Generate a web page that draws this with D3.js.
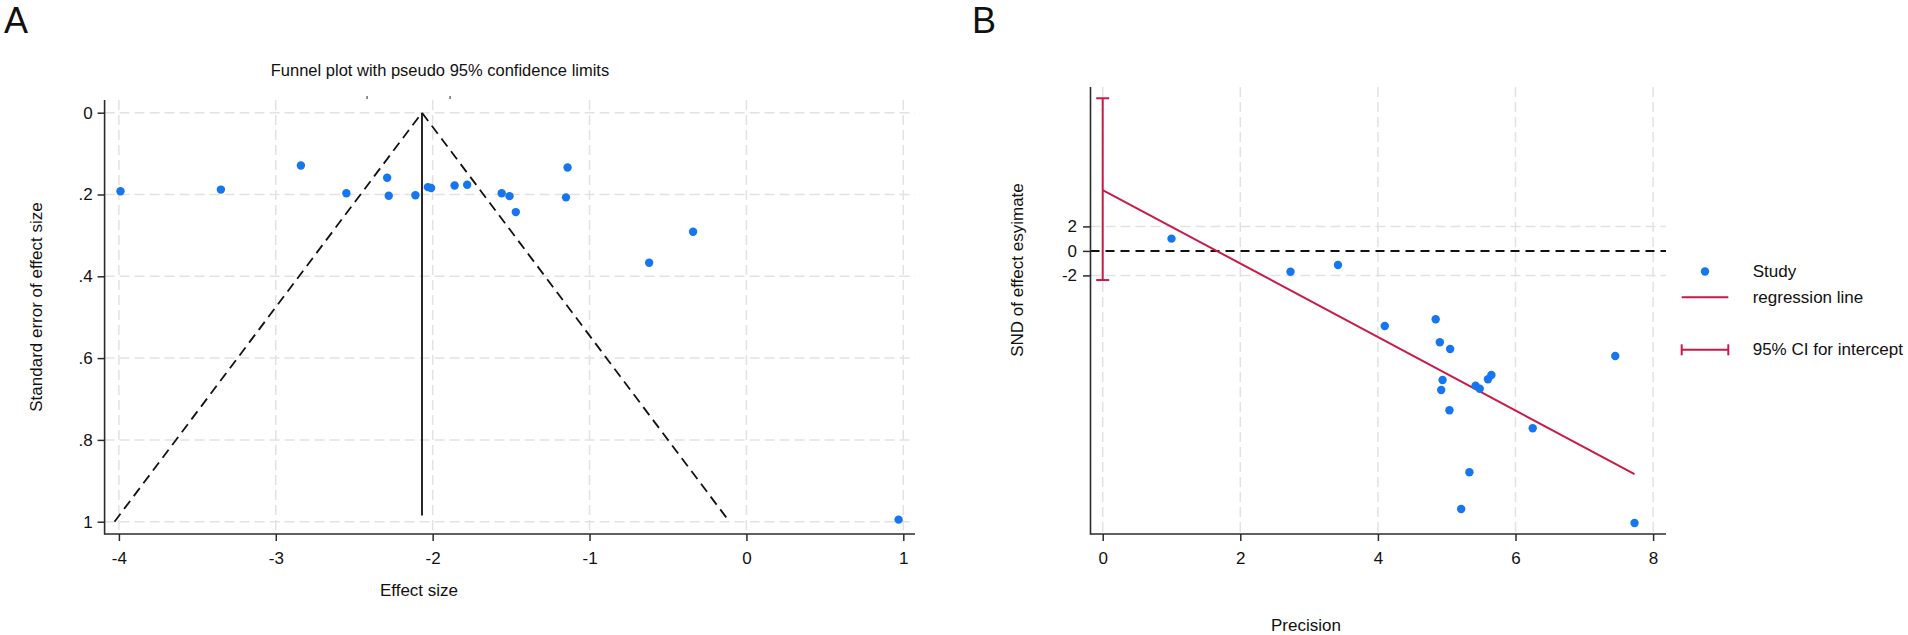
<!DOCTYPE html>
<html>
<head>
<meta charset="utf-8">
<script src="https://cdn.jsdelivr.net/npm/d3@7"></script>
<style>
  html, body { margin: 0; padding: 0; background: #fff; }
  svg { display: block; }
  text { font-family: "Liberation Sans", Arial, Helvetica, sans-serif; fill: #111; }
</style>
</head>
<body>
<svg id="chart" width="1908" height="635"></svg>
<script>
// ---------------- DATA ----------------
// Panel A: funnel plot
const effectSize = [-3.99, -3.35, -2.84, -2.55, -2.29, -2.28, -2.11, -2.03, -2.01, -1.86, -1.78, -1.56, -1.51, -1.47, -1.15, -1.14, -0.62, -0.34, 0.97];
const stdError   = [0.192, 0.188, 0.129, 0.197, 0.159, 0.203, 0.202, 0.182, 0.184, 0.178, 0.176, 0.197, 0.204, 0.243, 0.207, 0.134, 0.367, 0.291, 0.995];
const pooledEffect = -2.068;
const zCrit = 1.96;
const funnelSeMax = 1.0;
const pooledLineSeMax = 0.985;
const xTicksA = [-4, -3, -2, -1, 0, 1];
const xTickLabelsA = ["-4", "-3", "-2", "-1", "0", "1"];
const yTicksA = [0, 0.2, 0.4, 0.6, 0.8, 1];
const yTickLabelsA = ["0", ".2", ".4", ".6", ".8", "1"];
const topMarksA = [-2.418, -1.889];

// Panel B: Egger regression
const precision = [1.00, 2.73, 3.42, 4.10, 4.84, 4.90, 5.05, 4.94, 4.92, 5.04, 5.42, 5.48, 5.60, 5.65, 6.25, 5.33, 5.21, 7.45, 7.73];
const sndEffect = [1.00, -1.70, -1.15, -6.13, -5.58, -7.46, -8.01, -10.54, -11.36, -13.01, -11.00, -11.25, -10.48, -10.13, -14.48, -18.07, -21.07, -8.58, -22.21];
const regIntercept = 4.97;
const regSlope = -3.0;
const regXMax = 7.73;
const ciIntercept = [-2.38, 12.46];
const xTicksB = [0, 2, 4, 6, 8];
const xTickLabelsB = ["0", "2", "4", "6", "8"];
const yTicksB = [2, 0, -2];
const yTickLabelsB = ["2", "0", "-2"];
const yDomainB = [-23.1, 13.38];
const legendLabelsB = ["Study", "regression line", "95% CI for intercept"];

// ---------------- STYLE ----------------
const BLUE = "#1676f0";
const RED = "#c91a47";
const GRID = "#e2e2e2";
const AXIS = "#2b2b2b";

const svg = d3.select("#chart");
svg.append("rect").attr("width", 1908).attr("height", 635).attr("fill", "#fff");

// ================= PANEL A =================
const A = { left: 104.6, right: 915, top: 100, bottom: 534 };
const xA = d3.scaleLinear().domain([-4, 1]).range([118.9, 903.3]);
const yA = d3.scaleLinear().domain([0, 1]).range([112.7, 521.7]);
const gA = svg.append("g");

// grid
gA.selectAll(".gvx").data(xTicksA).join("line")
  .attr("x1", d => xA(d)).attr("x2", d => xA(d))
  .attr("y1", A.top).attr("y2", A.bottom)
  .attr("stroke", GRID).attr("stroke-width", 1.5).attr("stroke-dasharray", "10,5");
gA.selectAll(".gvy").data(yTicksA).join("line")
  .attr("x1", A.left).attr("x2", A.right)
  .attr("y1", d => yA(d)).attr("y2", d => yA(d))
  .attr("stroke", GRID).attr("stroke-width", 1.5).attr("stroke-dasharray", "10,5");

// funnel limits
const funnel = [
  [pooledEffect - zCrit * funnelSeMax, funnelSeMax],
  [pooledEffect, 0],
  [pooledEffect + zCrit * funnelSeMax, funnelSeMax]
];
gA.append("path")
  .attr("d", d3.line().x(d => xA(d[0])).y(d => yA(d[1]))(funnel))
  .attr("fill", "none").attr("stroke", "#111").attr("stroke-width", 1.8)
  .attr("stroke-dasharray", "10,6");
gA.append("line")
  .attr("x1", xA(pooledEffect)).attr("x2", xA(pooledEffect))
  .attr("y1", yA(0)).attr("y2", yA(pooledLineSeMax))
  .attr("stroke", "#111").attr("stroke-width", 1.8);

// tiny marks at top
gA.selectAll(".tm").data(topMarksA).join("line")
  .attr("x1", d => xA(d)).attr("x2", d => xA(d))
  .attr("y1", 96).attr("y2", 99)
  .attr("stroke", "#555").attr("stroke-width", 1.3);

// points
gA.selectAll(".ptA").data(effectSize.map((e, i) => [e, stdError[i]])).join("circle")
  .attr("cx", d => xA(d[0])).attr("cy", d => yA(d[1])).attr("r", 4.2)
  .attr("fill", BLUE);

// axes
const axA_x = gA.append("g").attr("transform", `translate(0,${A.bottom})`)
  .call(d3.axisBottom(xA).tickValues(xTicksA).tickSize(7).tickPadding(11).tickFormat((d, i) => xTickLabelsA[i]));
const axA_y = gA.append("g").attr("transform", `translate(${A.left},0)`)
  .call(d3.axisLeft(yA).tickValues(yTicksA).tickSize(7).tickPadding(5).tickFormat((d, i) => yTickLabelsA[i]));
[axA_x, axA_y].forEach(ax => {
  ax.select(".domain").remove();
  ax.selectAll(".tick line").attr("stroke", AXIS).attr("stroke-width", 1.5);
  ax.selectAll(".tick text").attr("font-size", 17).attr("fill", "#111")
    .style("font-family", '"Liberation Sans", Arial, sans-serif');
});
gA.append("line").attr("x1", A.left).attr("x2", A.left).attr("y1", A.top).attr("y2", A.bottom + 0.75)
  .attr("stroke", AXIS).attr("stroke-width", 1.6);
gA.append("line").attr("x1", A.left).attr("x2", A.right).attr("y1", A.bottom).attr("y2", A.bottom)
  .attr("stroke", AXIS).attr("stroke-width", 1.6);

// labels
gA.append("text").attr("x", 440).attr("y", 70).attr("text-anchor", "middle")
  .attr("dominant-baseline", "central").attr("font-size", 16.5)
  .text("Funnel plot with pseudo 95% confidence limits");
gA.append("text").attr("x", 419).attr("y", 590).attr("text-anchor", "middle")
  .attr("dominant-baseline", "central").attr("font-size", 17).text("Effect size");
gA.append("text").attr("transform", "translate(36,307) rotate(-90)").attr("text-anchor", "middle")
  .attr("dominant-baseline", "central").attr("font-size", 17).text("Standard error of effect size");
svg.append("text").attr("x", 4).attr("y", 33).attr("font-size", 36).text("A");

// ================= PANEL B =================
const B = { left: 1090.5, right: 1666, top: 87, bottom: 534 };
const xB = d3.scaleLinear().domain([0, 8]).range([1102.7, 1653.1]);
const yB = d3.scaleLinear().domain([-2, 2]).range([275.4, 226.4]);
const gB = svg.append("g");

// grid
gB.selectAll(".gbx").data(xTicksB).join("line")
  .attr("x1", d => xB(d)).attr("x2", d => xB(d))
  .attr("y1", yB(yDomainB[1])).attr("y2", B.bottom)
  .attr("stroke", GRID).attr("stroke-width", 1.5).attr("stroke-dasharray", "10,5");
gB.selectAll(".gby").data(yTicksB.filter(d => d !== 0)).join("line")
  .attr("x1", B.left).attr("x2", B.right)
  .attr("y1", d => yB(d)).attr("y2", d => yB(d))
  .attr("stroke", GRID).attr("stroke-width", 1.5).attr("stroke-dasharray", "10,5");

// zero reference
gB.append("line").attr("x1", B.left).attr("x2", B.right)
  .attr("y1", yB(0)).attr("y2", yB(0))
  .attr("stroke", "#111").attr("stroke-width", 2).attr("stroke-dasharray", "9,6");

// CI for intercept
const capW = 6.5;
gB.append("line").attr("x1", xB(0)).attr("x2", xB(0))
  .attr("y1", yB(ciIntercept[0])).attr("y2", yB(ciIntercept[1]))
  .attr("stroke", RED).attr("stroke-width", 2);
gB.selectAll(".cap").data(ciIntercept).join("line")
  .attr("x1", xB(0) - capW).attr("x2", xB(0) + capW)
  .attr("y1", d => yB(d)).attr("y2", d => yB(d))
  .attr("stroke", RED).attr("stroke-width", 2);

// regression line
gB.append("line")
  .attr("x1", xB(0)).attr("y1", yB(regIntercept))
  .attr("x2", xB(regXMax)).attr("y2", yB(regIntercept + regSlope * regXMax))
  .attr("stroke", RED).attr("stroke-width", 2);

// points
gB.selectAll(".ptB").data(precision.map((p, i) => [p, sndEffect[i]])).join("circle")
  .attr("cx", d => xB(d[0])).attr("cy", d => yB(d[1])).attr("r", 4.2)
  .attr("fill", BLUE);

// axes
const axB_x = gB.append("g").attr("transform", `translate(0,${B.bottom})`)
  .call(d3.axisBottom(xB).tickValues(xTicksB).tickSize(7).tickPadding(11).tickFormat((d, i) => xTickLabelsB[i]));
const axB_y = gB.append("g").attr("transform", `translate(${B.left},0)`)
  .call(d3.axisLeft(yB).tickValues(yTicksB).tickSize(7.5).tickPadding(6).tickFormat((d, i) => yTickLabelsB[i]));
[axB_x, axB_y].forEach(ax => {
  ax.select(".domain").remove();
  ax.selectAll(".tick line").attr("stroke", AXIS).attr("stroke-width", 1.5);
  ax.selectAll(".tick text").attr("font-size", 17).attr("fill", "#111")
    .style("font-family", '"Liberation Sans", Arial, sans-serif');
});
gB.append("line").attr("x1", B.left).attr("x2", B.left).attr("y1", B.top).attr("y2", B.bottom + 0.75)
  .attr("stroke", AXIS).attr("stroke-width", 1.6);
gB.append("line").attr("x1", B.left).attr("x2", B.right).attr("y1", B.bottom).attr("y2", B.bottom)
  .attr("stroke", AXIS).attr("stroke-width", 1.6);

// labels
gB.append("text").attr("x", 1306).attr("y", 625).attr("text-anchor", "middle")
  .attr("dominant-baseline", "central").attr("font-size", 17).text("Precision");
gB.append("text").attr("transform", "translate(1017,270) rotate(-90)").attr("text-anchor", "middle")
  .attr("dominant-baseline", "central").attr("font-size", 17).text("SND of effect esyimate");
svg.append("text").attr("x", 972).attr("y", 33).attr("font-size", 36).text("B");

// legend
const lg = gB.append("g");
const legY = [271.5, 297.3, 349.8];
const legSymX0 = 1681.7, legSymX1 = 1728.3, legTextX = 1752.7;
lg.append("circle").attr("cx", (legSymX0 + legSymX1) / 2).attr("cy", legY[0]).attr("r", 4.2).attr("fill", BLUE);
lg.append("line").attr("x1", legSymX0).attr("x2", legSymX1).attr("y1", legY[1]).attr("y2", legY[1])
  .attr("stroke", RED).attr("stroke-width", 2);
lg.append("line").attr("x1", legSymX0).attr("x2", legSymX1).attr("y1", legY[2]).attr("y2", legY[2])
  .attr("stroke", RED).attr("stroke-width", 2);
[legSymX0, legSymX1].forEach(x => {
  lg.append("line").attr("x1", x).attr("x2", x).attr("y1", legY[2] - 5.5).attr("y2", legY[2] + 5.5)
    .attr("stroke", RED).attr("stroke-width", 2);
});
lg.selectAll(".lt").data(legendLabelsB).join("text")
  .attr("x", legTextX).attr("y", (d, i) => legY[i])
  .attr("dominant-baseline", "central").attr("font-size", 17).text(d => d);
</script>
</body>
</html>
